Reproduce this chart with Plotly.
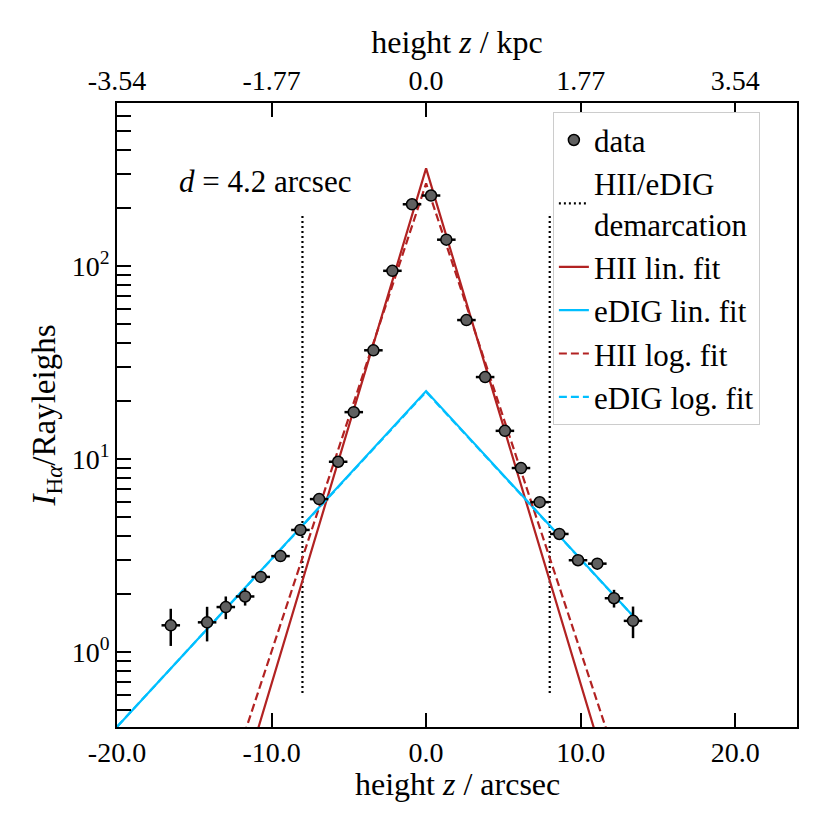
import plotly.graph_objects as go

# ---- data ----
z_arcsec = [-16.52, -14.17, -12.96, -11.71, -10.70, -9.42, -8.13, -6.92, -5.69, -4.68,
            -3.41, -2.18, -0.91, 0.32, 1.31, 2.61, 3.82, 5.10, 6.14, 7.35,
            8.62, 9.83, 11.08, 12.16, 13.39]
I_halpha = [1.375, 1.425, 1.71, 1.94, 2.45, 3.14, 4.29, 6.20, 9.68, 17.5,
            36.6, 94.5, 209.0, 232.0, 137.0, 52.5, 26.6, 14.0, 8.98, 5.98,
            4.09, 2.99, 2.87, 1.90, 1.45]
I_err = [0.30, 0.29, 0.23, 0.20, 0.16, 0.15, 0.15, 0.15, 0.2, 0.3,
         0.5, 1.0, 2.0, 2.0, 1.5, 0.8, 0.5, 0.3, 0.2, 0.15,
         0.15, 0.15, 0.15, 0.20, 0.27]
z_err = [0.6] * len(z_arcsec)

# fit lines (vertices; straight in log space)
hii_lin_x = [-12.0, 0.0, 12.0]
hii_lin_y = [0.200, 321.0, 0.200]
hii_log_x = [-12.5, 0.0, 12.5]
hii_log_y = [0.249, 268.0, 0.249]
edig_lin_x = [-20.5, 0.0, 13.39]
edig_lin_y = [0.370, 22.5, 1.537]
edig_log_x = [-20.5, 0.0, 13.39]
edig_log_y = [0.371, 22.3, 1.535]

# demarcation
demarc_z = [-8.0, 8.0]
demarc_lo, demarc_hi = 0.613, 185.0

x_ticks = [-20, -10, 0, 10, 20]
x_ticktext = ["-20.0", "-10.0", "0.0", "10.0", "20.0"]
kpc_ticktext = ["-3.54", "-1.77", "0.0", "1.77", "3.54"]
y_ticks = [1, 10, 100]
y_ticktext = ["10<sup>0</sup>", "10<sup>1</sup>", "10<sup>2</sup>"]
y_minor = [0.5, 0.6, 0.7, 0.8, 0.9, 2, 3, 4, 5, 6, 7, 8, 9,
           20, 30, 40, 50, 60, 70, 80, 90, 200, 300, 400, 500, 600, 700]

RED = "#b22222"
CYAN = "#00bfff"
FONT = "Liberation Serif"

fig = go.Figure()

fig.add_trace(go.Scatter(
    x=[demarc_z[0], demarc_z[0], None, demarc_z[1], demarc_z[1]],
    y=[demarc_lo, demarc_hi, None, demarc_lo, demarc_hi],
    mode="lines", line=dict(color="black", width=2.2, dash="2px,3px"),
    name="HII/eDIG<br>demarcation", legendrank=2))
fig.add_trace(go.Scatter(x=hii_lin_x, y=hii_lin_y, mode="lines",
                         line=dict(color=RED, width=2.2), name="HII lin. fit", legendrank=3))
fig.add_trace(go.Scatter(x=edig_lin_x, y=edig_lin_y, mode="lines",
                         line=dict(color=CYAN, width=2.2), name="eDIG lin. fit", legendrank=4))
fig.add_trace(go.Scatter(x=hii_log_x, y=hii_log_y, mode="lines",
                         line=dict(color=RED, width=2.2, dash="8px,4px"), name="HII log. fit", legendrank=5))
fig.add_trace(go.Scatter(x=edig_log_x, y=edig_log_y, mode="lines",
                         line=dict(color=CYAN, width=2.2, dash="8px,4px"), name="eDIG log. fit", legendrank=6))
fig.add_trace(go.Scatter(
    x=z_arcsec, y=I_halpha, mode="markers", name="data", legendrank=1,
    marker=dict(color="#606060", size=11, line=dict(color="black", width=1.5)),
    error_y=dict(type="data", array=I_err, color="black", thickness=2.5, width=0),
    error_x=dict(type="data", array=z_err, color="black", thickness=2.5, width=0)))

# dummy trace for top axis
fig.add_trace(go.Scatter(x=[0], y=[1], xaxis="x2", mode="markers",
                         marker=dict(opacity=0), showlegend=False, hoverinfo="skip"))

fig.add_annotation(x=-16.1, y=2.44, xref="x", yref="y", xanchor="left", yanchor="middle",
                   text="<i>d</i> = 4.2 arcsec", showarrow=False,
                   font=dict(family=FONT, size=31, color="black"))

# bottom axis title as annotation (closer to tick labels)
fig.add_annotation(x=0.5, y=-0.092, xref="paper", yref="paper", xanchor="center", yanchor="middle",
                   text="height <i>z</i> / arcsec", showarrow=False,
                   font=dict(family=FONT, size=32, color="black"))

axis_common = dict(showgrid=False, zeroline=False, linecolor="black", linewidth=1.5,
                   ticks="inside", ticklen=14, tickwidth=1.5, tickcolor="black",
                   automargin=False,
                   tickfont=dict(family=FONT, size=28, color="black"))

fig.update_layout(
    width=830, height=830,
    margin=dict(l=109, r=41, t=95, b=111),
    paper_bgcolor="white", plot_bgcolor="white",
    font=dict(family=FONT, size=28, color="black"),
    xaxis=dict(range=[-20, 24], tickmode="array", tickvals=x_ticks, ticktext=x_ticktext,
               mirror=True, **axis_common),
    xaxis2=dict(range=[-20, 24], overlaying="x", side="top", anchor="y",
                tickmode="array", tickvals=x_ticks, ticktext=kpc_ticktext,
                title=dict(text="height <i>z</i> / kpc", font=dict(family=FONT, size=32), standoff=2),
                **axis_common),
    yaxis=dict(type="log", range=[-0.3886, 2.845], tickmode="array", tickvals=y_ticks,
               ticktext=y_ticktext, mirror=True,
               minor=dict(tickmode="array", tickvals=y_minor, ticks="inside", ticklen=14,
                          tickwidth=1.5, tickcolor="black"),
               title=dict(text="<i>I</i><sub>H<i>α</i></sub>/Rayleighs",
                          font=dict(family=FONT, size=33), standoff=6),
               **axis_common),
    legend=dict(x=0.641, y=0.985, xanchor="left", yanchor="top",
                bgcolor="white", bordercolor="#cccccc", borderwidth=1,
                font=dict(family=FONT, size=31, color="black"),
                tracegroupgap=4),
    showlegend=True,
)

fig.write_html("out.html")
